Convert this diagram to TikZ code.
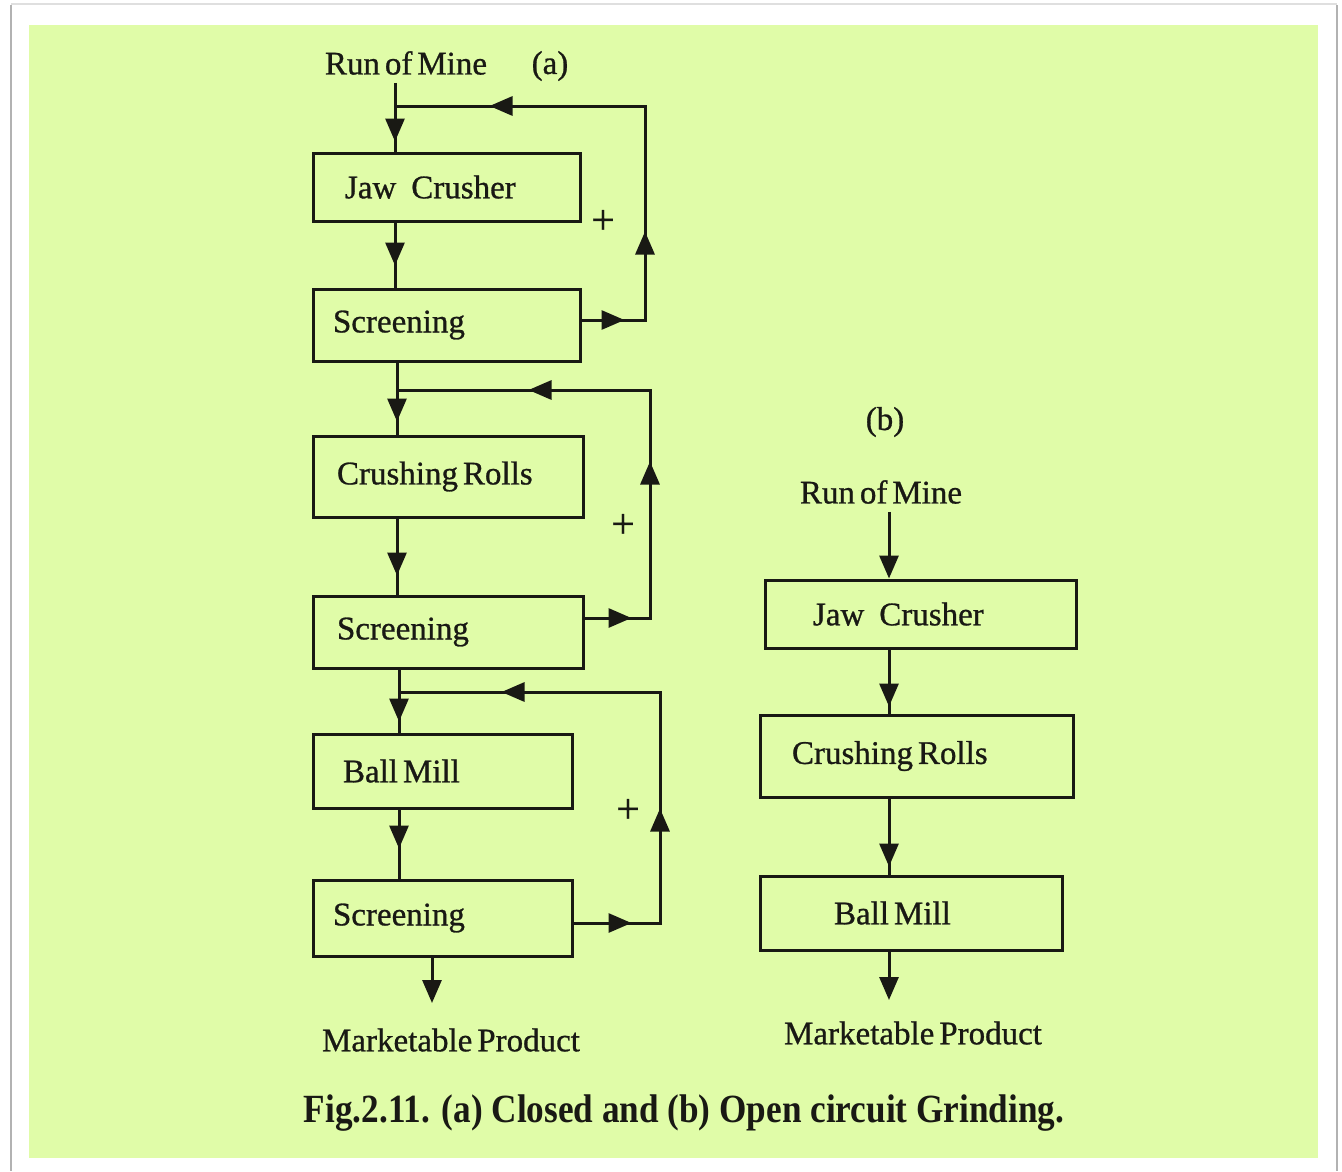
\documentclass[tikz,border=0pt]{standalone}
\usepackage{fontspec}
\setmainfont{Liberation Serif}[WordSpace=0.6, FakeBold=0.8]
\newfontfamily\capfont[FakeStretch=0.88]{Liberation Serif}
\usetikzlibrary{arrows.meta,decorations.markings}
\definecolor{bggreen}{RGB}{224,252,168}
\definecolor{ink}{RGB}{25,25,20}
\tikzset{
  tri/.tip={Triangle[length=23pt,width=19pt]},
  lbl/.style={font=\fontsize{33}{36}\selectfont, text=ink, inner sep=0pt},
  plus/.style={font=\fontsize{42}{44}\selectfont, text=ink, inner sep=0pt},
  box/.style={draw=ink, line width=3pt, font=\fontsize{33}{36}\selectfont, text=ink,
    align=flush left, inner ysep=0pt, minimum height=#1},
  conn/.style={draw=ink, line width=3pt},
  ar/.style={conn, postaction={decorate},
    decoration={markings, mark=at position #1 with {\arrow{tri}}}},
  fb/.style n args={3}{conn, postaction={decorate},
    decoration={markings,
      mark=at position #1 with {\arrow{tri}},
      mark=at position #2 with {\arrow{tri}},
      mark=at position #3 with {\arrow{tri}}}},
  endar/.style={conn, -{tri}}
}
\begin{document}
\begin{tikzpicture}[x=1pt,y=-1pt]
\useasboundingbox (0,0) rectangle (1342,1171);
% page and frame
\fill[white] (0,0) rectangle (1342,1171);
\draw[gray!25, line width=1.5pt] (11,4) -- (1337,4);
\draw[gray!60, line width=2.5pt] (11,5) -- (11,1171);
\draw[gray!60, line width=2.5pt] (1337,5) -- (1337,1171);
\fill[bggreen] (29,25) rectangle (1318,1158);

% ---------- (a) closed circuit ----------
\node[lbl] (rom) at (406,63) {Run of Mine};
\node[lbl] (la) at (550,66) {(a)};

\node[box=68pt, text width=203pt, inner xsep=32pt] (jc) at (446.5,187) {Jaw\hspace{15pt}Crusher};
\node[box=72pt, text width=227pt, inner xsep=20pt] (sc1) at (446.5,325) {Screening};
\node[box=81pt, text width=222pt, inner xsep=24pt] (cr) at (448,476.5) {Crushing Rolls};
\node[box=72pt, text width=222pt, inner xsep=24pt] (sc2) at (448,632) {Screening};
\node[box=74pt, text width=199pt, inner xsep=30pt] (bm) at (442.5,771) {Ball Mill};
\node[box=76pt, text width=219pt, inner xsep=20pt] (sc3) at (442.5,918) {Screening};
\node[lbl] (mpa) at (451,1040) {Marketable Product};

\node[plus] (p1) at (603,222) {+};
\node[plus] (p2) at (623,526) {+};
\node[plus] (p3) at (628,811) {+};

\coordinate (t1) at (395,106);
\coordinate (k1) at (645,106);
\coordinate (t2) at (397,390);
\coordinate (k2) at (650,390);
\coordinate (t3) at (399,692);
\coordinate (k3) at (660,692);
\coordinate (e1) at (432,1003);

\draw[ar=-10pt] ([yshift=-8pt]t1 |- rom.south) -- (t1 |- jc.north);
\draw[ar=-22pt] (t1 |- jc.south) -- (t1 |- sc1.north);
\draw[fb={43pt}{152pt}{433pt}] ([yshift=5pt]sc1.east) -| (k1) -- (t1);

\draw[ar=-13pt] (t2 |- sc1.south) -- (t2 |- cr.north);
\draw[ar=-19pt] (t2 |- cr.south) -- (t2 |- sc2.north);
\draw[fb={47pt}{222pt}{415pt}] ([yshift=14pt]sc2.east) -| (k2) -- (t2);

\draw[ar=-11pt] (t3 |- sc2.south) -- (t3 |- bm.north);
\draw[ar=-30pt] (t3 |- bm.south) -- (t3 |- sc3.north);
\draw[fb={58pt}{201pt}{476pt}] ([yshift=-5pt]sc3.east) -| (k3) -- (t3);

\draw[endar] (e1 |- sc3.south) -- (e1);

% ---------- (b) open circuit ----------
\node[lbl] (lb) at (885,422) {(b)};
\node[lbl] (romb) at (881,492) {Run of Mine};
\node[box=68pt, text width=215pt, inner xsep=48pt] (jcb) at (920.5,614) {Jaw\hspace{15pt}Crusher};
\node[box=82pt, text width=249pt, inner xsep=32pt] (crb) at (916.5,756) {Crushing Rolls};
\node[box=74pt, text width=154pt, inner xsep=74pt] (bmb) at (911,913) {Ball Mill};
\node[lbl] (mpb) at (913,1033) {Marketable Product};

\coordinate (tb) at (889,515);
\coordinate (e2) at (889,1000);
\draw[endar] ([yshift=-8pt]tb |- romb.south) -- (tb |- jcb.north);
\draw[ar=-7pt] (tb |- jcb.south) -- (tb |- crb.north);
\draw[ar=-8pt] (tb |- crb.south) -- (tb |- bmb.north);
\draw[endar] (tb |- bmb.south) -- (e2);

% caption
\node[inner sep=0pt, text=ink, font=\capfont\bfseries\fontsize{40}{44}\selectfont] (cap) at (684,1113)
  {Fig.2.11. (a) Closed and (b) Open circuit Grinding.};
\end{tikzpicture}
\end{document}
